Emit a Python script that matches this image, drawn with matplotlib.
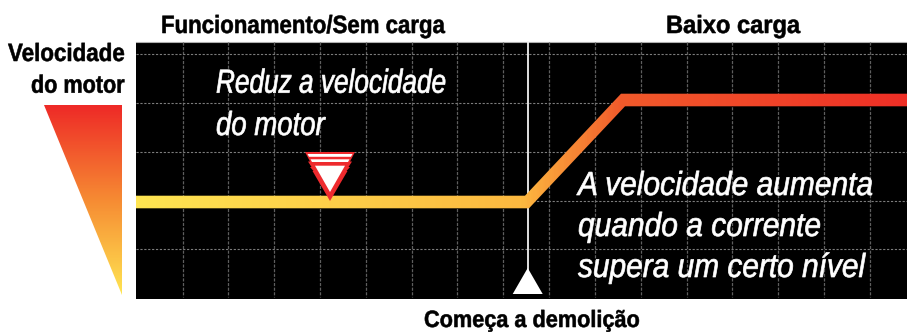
import numpy as np
import matplotlib
matplotlib.use("Agg")
import matplotlib.pyplot as plt
import matplotlib.patheffects as pe
from matplotlib.colors import LinearSegmentedColormap
from matplotlib.patches import Polygon
from matplotlib.transforms import Affine2D

# valores (en pixeles)
line_x = [136, 527, 623, 907]
line_y = [202, 202, 100, 100]
grid_x = [182.5, 228.3, 274, 320, 366, 411.5, 457.3, 503, 549, 595, 641, 686.5, 732.3, 778, 824, 870]
grid_y = [54.3, 103, 151.7, 200.5, 249]
header_left = "Funcionamento/Sem carga"
header_right = "Baixo carga"
axis_label = ["Velocidade", "do motor"]
note_left = ["Reduz a velocidade", "do motor"]
note_right = ["A velocidade aumenta", "quando a corrente", "supera um certo nível"]
bottom_label = "Começa a demolição"

W, H = 907, 332
fig = plt.figure(figsize=(W / 100, H / 100), dpi=100)
ax = fig.add_axes([0, 0, 1, 1])
ax.set_xlim(0, W)
ax.set_ylim(H, 0)
ax.axis("off")


# la fuente condensada no esta instalada: se angosta el texto al dibujarlo
class Narrow(pe.AbstractPathEffect):
    def __init__(self, sx, stroke=0):
        super().__init__()
        self.sx = sx
        self.stroke = stroke

    def draw_path(self, renderer, gc, tpath, affine, rgbFace=None):
        gc0 = renderer.new_gc()
        gc0.copy_properties(gc)
        if self.stroke:
            gc0.set_linewidth(self.stroke)
            gc0.set_foreground(rgbFace)
        renderer.draw_path(gc0, tpath, Affine2D().scale(self.sx, 1) + affine, rgbFace)
        gc0.restore()


def label(s, x0, x1, base, size, color="black", bold=True, italic=False, stroke=0.4):
    t = ax.text(x0, base, s, family="Liberation Sans", fontsize=size, color=color,
                fontweight="bold" if bold else "normal",
                style="italic" if italic else "normal",
                ha="left", va="baseline", zorder=7)
    width = t.get_window_extent(fig.canvas.get_renderer()).width
    t.set_path_effects([Narrow((x1 - x0) / width, stroke)])


# fondo negro
ax.add_patch(plt.Rectangle((136, 42), W - 136, 257, fc="black", ec="none", zorder=1))
ax.plot([136, W], [42, 42], color="#b0b0b0", lw=0.8, zorder=1.5)

# cuadricula
for x in grid_x:
    ax.plot([x, x], [42, 296.5], color="#5e5e5e", lw=0.9, ls=(0, (2.5, 1.2)), zorder=2)
for y in grid_y:
    ax.plot([136, W], [y, y], color="#7c7c7c", lw=0.8, ls=(0, (2, 1.5)), zorder=2)

# linea vertical y flecha
ax.plot([527.7, 527.7], [42, 270], color="#f2f2f2", lw=1.3, zorder=3)
ax.add_patch(Polygon([(527.7, 268), (542.7, 294), (512.7, 294)], fc="white", ec="none", zorder=3))

# linea de velocidad con degradado
speed_cmap = LinearSegmentedColormap.from_list(
    "speed", [(0, "#ffe552"), (0.5, "#fdb940"), (0.63, "#f15a2b"), (1, "#ee2f26")])
im = ax.imshow(np.linspace(0, 1, 400).reshape(1, -1), extent=(136, 907, 212, 90),
               aspect="auto", cmap=speed_cmap, zorder=4)
upper = [(x - (2 if 136 < x < 907 else 0), y - 6.3) for x, y in zip(line_x, line_y)]
lower = [(x + (2 if 136 < x < 907 else 0), y + 6.3) for x, y in zip(line_x, line_y)]
poly = Polygon(upper + lower[::-1], transform=ax.transData, fc="none", ec="none")
ax.add_patch(poly)
im.set_clip_path(poly)

# triangulo de velocidad
tri_cmap = LinearSegmentedColormap.from_list("tri", ["#ee2a27", "#f68b33", "#ffe552"])
im2 = ax.imshow(np.linspace(0, 1, 200).reshape(-1, 1), extent=(44, 121.5, 295, 105),
                aspect="auto", cmap=tri_cmap, origin="upper", zorder=4)
tri = Polygon([(44, 105), (121.5, 105), (121.5, 295)], transform=ax.transData, fc="none", ec="none")
ax.add_patch(tri)
im2.set_clip_path(tri)
ax.set_xlim(0, W)
ax.set_ylim(H, 0)

# marca de reduccion
red = "#ee2a2e"
ax.add_patch(Polygon([(305, 152), (355, 152), (350, 161.5), (352, 161.5), (348.5, 167), (350, 167),
                      (346.5, 171), (347.5, 171), (330, 201), (312.5, 171), (313.5, 171), (310, 167),
                      (311.5, 167), (308, 161.5), (310, 161.5)], fc=red, ec="none", zorder=5))
ax.add_patch(Polygon([(307.5, 154), (352.5, 154), (351, 156.8), (309, 156.8)], fc="white", ec="none", zorder=6))
ax.add_patch(Polygon([(310.5, 159.3), (349.5, 159.3), (348, 162), (312, 162)], fc="white", ec="none", zorder=6))
ax.add_patch(Polygon([(315, 165.7), (345, 165.7), (330, 192)], fc="white", ec="none", zorder=6))

# textos
label(header_left, 161, 445, 33, 18)
label(header_right, 666, 800, 33, 18)
label(axis_label[0], 8, 125, 61, 18)
label(axis_label[1], 31, 125, 92.7, 18)
label(bottom_label, 424, 640, 327, 17)
label(note_left[0], 216, 447, 92.7, 24, "white", False, True, 0.5)
label(note_left[1], 216, 325, 135, 24, "white", False, True, 0.5)
label(note_right[0], 578, 874, 195, 24, "white", False, True, 0.5)
label(note_right[1], 578, 822, 236, 24, "white", False, True, 0.5)
label(note_right[2], 578, 866, 277, 24, "white", False, True, 0.5)

fig.savefig("out.png", dpi=100, facecolor="white")
